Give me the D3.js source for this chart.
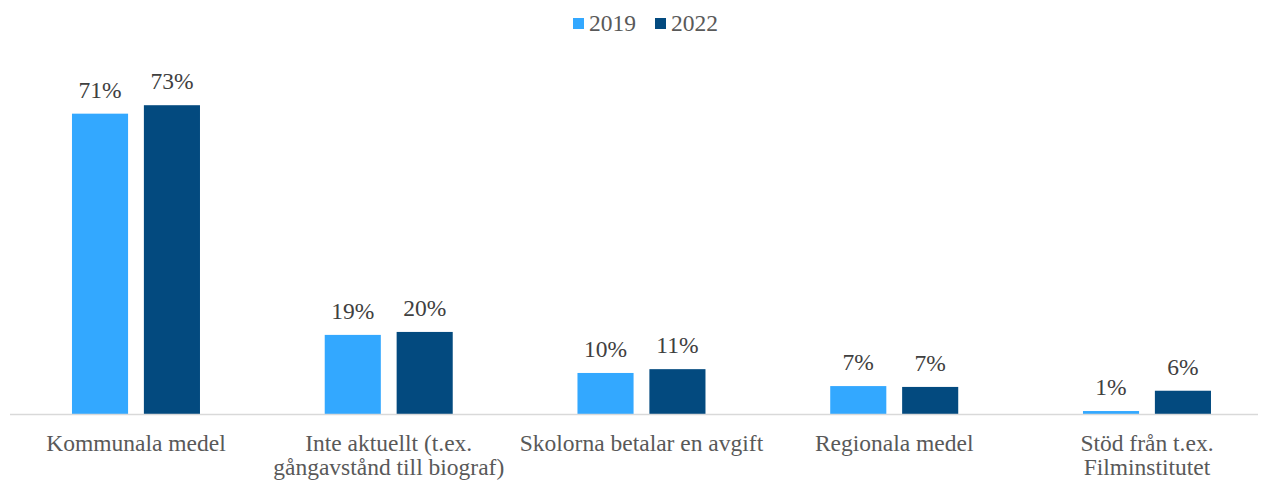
<!doctype html>
<html>
<head>
  <meta charset="utf-8">
  <title>Finansiering</title>
  <script src="https://d3js.org/d3.v7.min.js"></script>
  <style>
    body { margin: 0; background: #fff; }
    text { font-family: "Liberation Serif", "Times New Roman", serif; fill: #595959; }
    .val { font-size: 23.5px; text-anchor: middle; fill: #404040; }
    .cat { font-size: 23.5px; text-anchor: middle; }
    .legend { font-size: 23.5px; }
  </style>
</head>
<body>
<div id="chart"></div>
<script>
  // data
  var categories = [
    ["Kommunala medel"],
    ["Inte aktuellt (t.ex.", "gångavstånd till biograf)"],
    ["Skolorna betalar en avgift"],
    ["Regionala medel"],
    ["Stöd från t.ex.", "Filminstitutet"]
  ];
  var series = ["2019", "2022"];
  var values2019 = [71, 18.7, 9.7, 6.6, 0.7];
  var values2022 = [73, 19.4, 10.6, 6.4, 5.5];
  var labels2019 = ["71%", "19%", "10%", "7%", "1%"];
  var labels2022 = ["73%", "20%", "11%", "7%", "6%"];
  var colors = ["#33a8ff", "#034a7f"];

  var W = 1261, H = 483;
  var base = 414;

  var svg = d3.select("#chart").append("svg")
      .attr("width", W).attr("height", H);

  var x0 = d3.scaleBand().domain(d3.range(categories.length))
      .range([9.6, 9.6 + 5 * 252.75]);
  var x1 = d3.scaleBand().domain(series)
      .range([0, 128]).paddingInner(0.22);
  var y = d3.scaleLinear().domain([0, 80]).range([base, base - 80 * 4.23]);

  var rows = [values2019, values2022];
  var labs = [labels2019, labels2022];

  function cx(i) { return x0(i) + x0.bandwidth() / 2; }

  series.forEach(function(s, si) {
    var g = svg.append("g");
    g.selectAll("rect").data(rows[si]).enter().append("rect")
      .attr("x", function(d, i) { return cx(i) - 64 + x1(s); })
      .attr("y", function(d) { return y(d); })
      .attr("width", x1.bandwidth())
      .attr("height", function(d) { return base - y(d); })
      .attr("fill", colors[si]);
    g.selectAll("text").data(rows[si]).enter().append("text")
      .attr("class", "val")
      .attr("x", function(d, i) { return cx(i) - 64 + x1(s) + x1.bandwidth() / 2; })
      .attr("y", function(d) { return y(d) - 16; })
      .text(function(d, i) { return labs[si][i]; });
  });

  // baseline
  svg.append("line")
    .attr("x1", 10).attr("x2", 1258)
    .attr("y1", base + 0.5).attr("y2", base + 0.5)
    .attr("stroke", "#d9d9d9").attr("stroke-width", 1.5);

  // category labels
  categories.forEach(function(lines, i) {
    var t = svg.append("text").attr("class", "cat")
      .attr("x", cx(i))
      .attr("y", 451);
    lines.forEach(function(l, k) {
      t.append("tspan").attr("x", cx(i))
        .attr("dy", k === 0 ? 0 : 24).text(l);
    });
  });

  // legend
  var legX = [573, 655];
  series.forEach(function(s, si) {
    svg.append("rect").attr("x", legX[si]).attr("y", 18)
      .attr("width", 11).attr("height", 11).attr("fill", colors[si]);
    svg.append("text").attr("class", "legend")
      .attr("x", legX[si] + 16).attr("y", 31).text(s);
  });
</script>
</body>
</html>
